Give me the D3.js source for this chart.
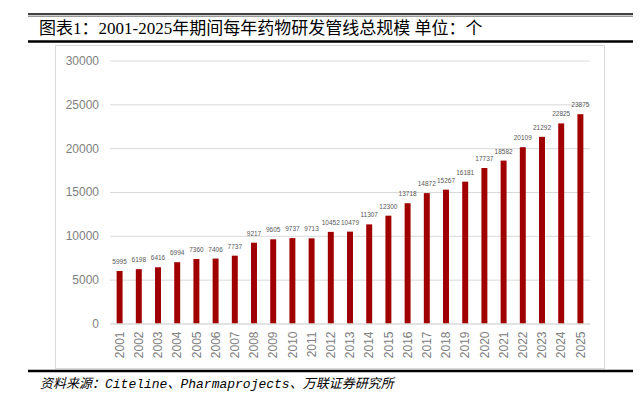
<!DOCTYPE html>
<html>
<head>
<meta charset="utf-8">
<script src="https://cdn.jsdelivr.net/npm/d3@7"></script>
<style>
  html, body { margin: 0; padding: 0; background: #fff; }
  svg { display: block; }
</style>
</head>
<body>
<div id="chart"></div>
<script>
const years = ['2001','2002','2003','2004','2005','2006','2007','2008','2009','2010','2011','2012','2013',
  '2014','2015','2016','2017','2018','2019','2020','2021','2022','2023','2024','2025'];
const pipelineSize = [5995, 6198, 6416, 6994, 7360, 7406, 7737, 9217, 9605, 9737, 9713, 10452, 10479,
  11307, 12300, 13718, 14872, 15267, 16181, 17737, 18582, 20109, 21292, 22825, 23875];
const yTicks = [0, 5000, 10000, 15000, 20000, 25000, 30000];
const titleText = '图表1：2001-2025年期间每年药物研发管线总规模 单位：个';
const sourceText = ['资料来源：', 'Citeline', '、', 'Pharmaprojects', '、万联证券研究所'];

const width = 644, height = 399;
const plot = { left: 110, right: 590, top: 60.5, bottom: 323.5 };

const svg = d3.select('#chart').append('svg')
  .attr('width', width)
  .attr('height', height);

// header rules + title
svg.append('line').attr('x1', 28).attr('x2', 633).attr('y1', 14).attr('y2', 14)
  .attr('stroke', '#000').attr('stroke-width', 1.6);
svg.append('line').attr('x1', 28).attr('x2', 633).attr('y1', 16.2).attr('y2', 16.2)
  .attr('stroke', '#444').attr('stroke-width', 0.8);
svg.append('text')
  .attr('x', 39).attr('y', 34)
  .attr('font-family', '"Liberation Serif", "Noto Sans CJK SC", serif')
  .attr('font-size', 17)
  .attr('fill', '#000')
  .text(titleText);
svg.append('line').attr('x1', 28).attr('x2', 633).attr('y1', 41.5).attr('y2', 41.5)
  .attr('stroke', '#000').attr('stroke-width', 2.6);

// chart frame
svg.append('rect')
  .attr('x', 55.5).attr('y', 45.5).attr('width', 549).attr('height', 323)
  .attr('fill', '#fff').attr('stroke', '#d9d9d9');

const x = d3.scaleBand()
  .domain(years)
  .range([plot.left, plot.right])
  .paddingInner(0.69)
  .paddingOuter(0.345);

const y = d3.scaleLinear()
  .domain([0, 30000])
  .range([plot.bottom, plot.top]);

// y axis with gridlines
svg.append('g')
  .attr('transform', `translate(${plot.left},0)`)
  .call(d3.axisLeft(y).tickValues(yTicks).tickFormat(d3.format('d'))
    .tickSize(-(plot.right - plot.left)).tickPadding(11))
  .call(g => g.select('.domain').remove())
  .call(g => g.selectAll('.tick line').attr('stroke', '#d9d9d9'))
  .call(g => g.selectAll('.tick text')
    .attr('font-family', '"Liberation Sans", Arial, sans-serif')
    .attr('font-size', 12)
    .attr('fill', '#808080'));

// bars
svg.append('g')
  .selectAll('rect')
  .data(pipelineSize)
  .join('rect')
  .attr('x', (d, i) => x(years[i]))
  .attr('y', d => y(d))
  .attr('width', x.bandwidth())
  .attr('height', d => y(0) - y(d))
  .attr('fill', '#a00000');

// value labels
svg.append('g')
  .selectAll('text')
  .data(pipelineSize)
  .join('text')
  .attr('x', (d, i) => x(years[i]) + x.bandwidth() / 2)
  .attr('y', d => y(d) - 7)
  .attr('text-anchor', 'middle')
  .attr('font-family', '"Liberation Sans", Arial, sans-serif')
  .attr('font-size', 6.5)
  .attr('fill', '#595959')
  .text(d => d);

// x axis (rotated years)
svg.append('g')
  .attr('transform', `translate(0,${plot.bottom})`)
  .call(d3.axisBottom(x).tickSize(0))
  .call(g => g.select('.domain').attr('stroke', '#d9d9d9'))
  .call(g => g.selectAll('.tick text')
    .attr('transform', 'rotate(-90)')
    .attr('text-anchor', 'end')
    .attr('x', -8)
    .attr('y', 0)
    .attr('dy', '0.35em')
    .attr('font-family', '"Liberation Sans", Arial, sans-serif')
    .attr('font-size', 12)
    .attr('fill', '#808080'));

// footer rule + source
svg.append('line').attr('x1', 28).attr('x2', 633).attr('y1', 371).attr('y2', 371)
  .attr('stroke', '#000').attr('stroke-width', 2.6);
svg.append('text')
  .attr('x', 40).attr('y', 388)
  .attr('font-family', '"Liberation Mono", "Noto Sans CJK SC", monospace')
  .attr('font-style', 'italic')
  .attr('font-size', 13)
  .attr('fill', '#000')
  .selectAll('tspan')
  .data(sourceText)
  .join('tspan')
  .text(d => d);
</script>
</body>
</html>
